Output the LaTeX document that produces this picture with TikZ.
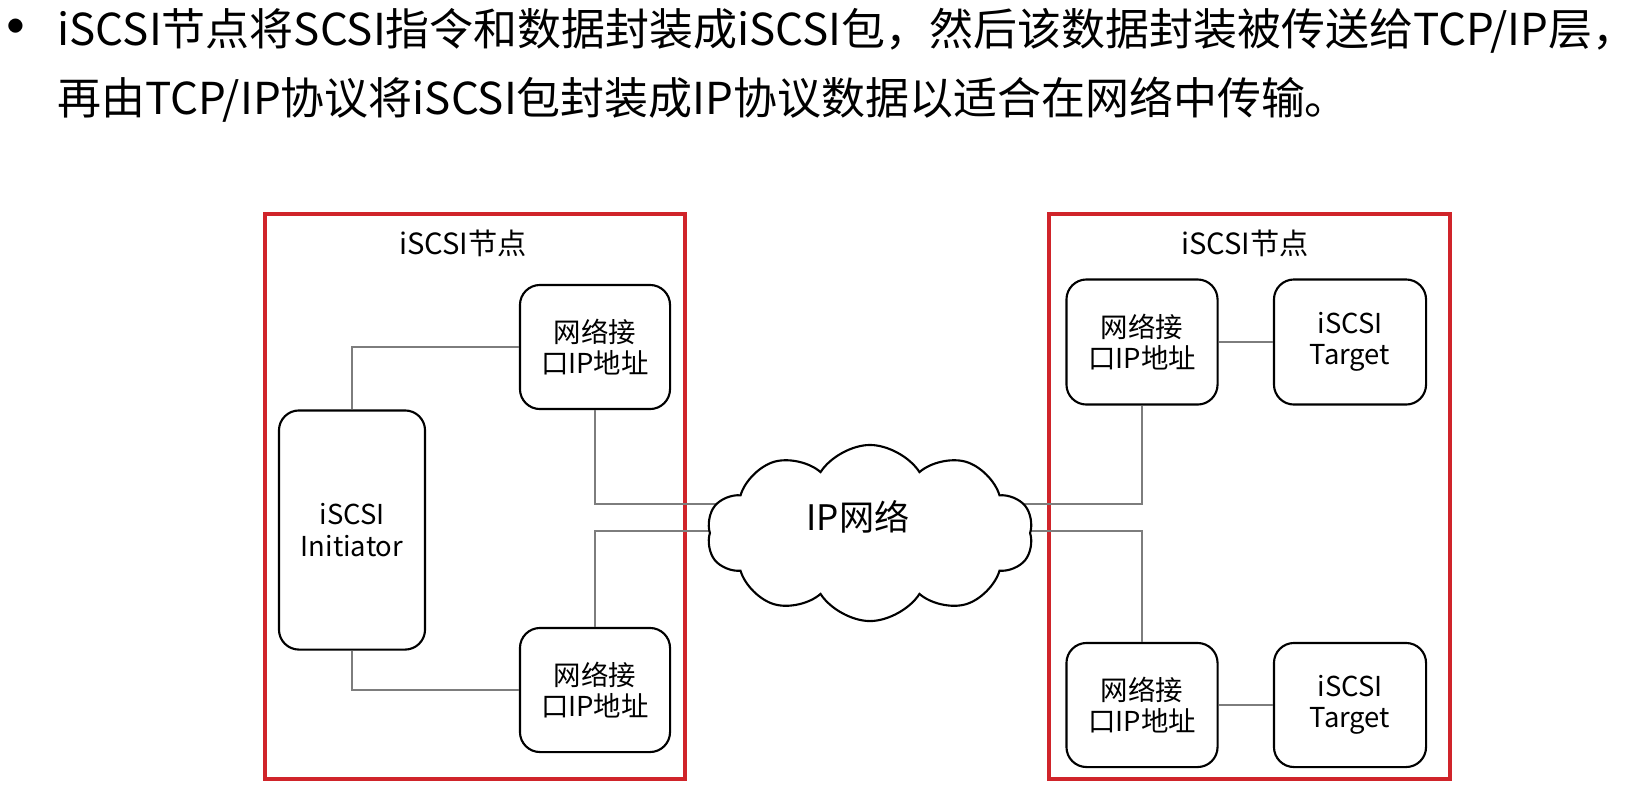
\documentclass[tikz,border=0pt]{standalone}
\usepackage{fontspec}
\setmainfont{Noto Sans CJK SC}
\usetikzlibrary{shapes.symbols}
\definecolor{framered}{RGB}{208,36,42}
\definecolor{linkgray}{RGB}{125,125,125}

\begin{document}
\begin{tikzpicture}[x=0.01cm, y=-0.01cm,
    box/.style={draw, rounded corners=0.2cm, line width=0.6pt, align=center, inner sep=0pt,
      font=\fontsize{7.8}{8.9}\selectfont},
    nodeframe/.style={draw=framered, line width=0.9pt},
    link/.style={draw=linkgray, line width=0.4pt},
    bodytext/.style={anchor=base west, inner sep=0pt, text height=0.34cm,
      font=\fontsize{12.5}{15}\selectfont}]
  \useasboundingbox (0,0) rectangle (1637,784);

  % Bullet text
  \node[anchor=base, inner sep=0pt, text height=0.15cm, font=\fontsize{19}{20}\selectfont] (dot) at (16,51) {•};
  \node[bodytext] (line1) at (57,45) {iSCSI节点将SCSI指令和数据封装成iSCSI包，然后该数据封装被传送给TCP/IP层，};
  \node[bodytext] (line2) at (57,114) {再由TCP/IP协议将iSCSI包封装成IP协议数据以适合在网络中传输。};

  % Frames
  \draw[nodeframe] (265,214) rectangle (685,779);
  \draw[nodeframe] (1049,214) rectangle (1450,779);
  \node[font=\fontsize{8.3}{10}\selectfont] (leftlabel) at (463,243) {iSCSI节点};
  \node[font=\fontsize{8.3}{10}\selectfont] (rightlabel) at (1245,243) {iSCSI节点};

  % --- LEFT NODE ---
  \node[box, minimum width=1.5cm, minimum height=1.24cm] (nicLT) at (595,347) {网络接\\口IP地址};
  \node[box, minimum width=1.46cm, minimum height=2.39cm] (init) at (352,530) {iSCSI\\Initiator};
  \node[box, minimum width=1.5cm, minimum height=1.24cm] (nicLB) at (595,690) {网络接\\口IP地址};

  % --- RIGHT NODE ---
  \node[box, minimum width=1.51cm, minimum height=1.25cm] (nicRT) at (1142,342) {网络接\\口IP地址};
  \node[box, minimum width=1.52cm, minimum height=1.25cm] (tgtRT) at (1350,342) {iSCSI\\Target};
  \node[box, minimum width=1.51cm, minimum height=1.24cm] (nicRB) at (1142,705) {网络接\\口IP地址};
  \node[box, minimum width=1.52cm, minimum height=1.24cm] (tgtRB) at (1350,705) {iSCSI\\Target};

  % Links
  \coordinate (netA) at (870,504);
  \coordinate (netB) at (870,531);
  \draw[link] (init.north) |- (nicLT.west);
  \draw[link] (init.south) |- (nicLB.west);
  \draw[link] (nicLT.south) |- (netA);
  \draw[link] (nicLB.north) |- (netB);
  \draw[link] (nicRT.south) |- (netA);
  \draw[link] (nicRB.north) |- (netB);
  \draw[link] (nicRT) -- (tgtRT);
  \draw[link] (nicRB) -- (tgtRB);

  % IP network
  \node[cloud, draw, fill=white, line width=0.6pt, cloud puffs=10, cloud puff arc=115,
    cloud ignores aspect, minimum width=3.26cm, minimum height=1.76cm] (net) at (870,533) {};
  \node[font=\fontsize{10}{12}\selectfont] (netname) at (858,517) {IP网络};
\end{tikzpicture}
\end{document}
